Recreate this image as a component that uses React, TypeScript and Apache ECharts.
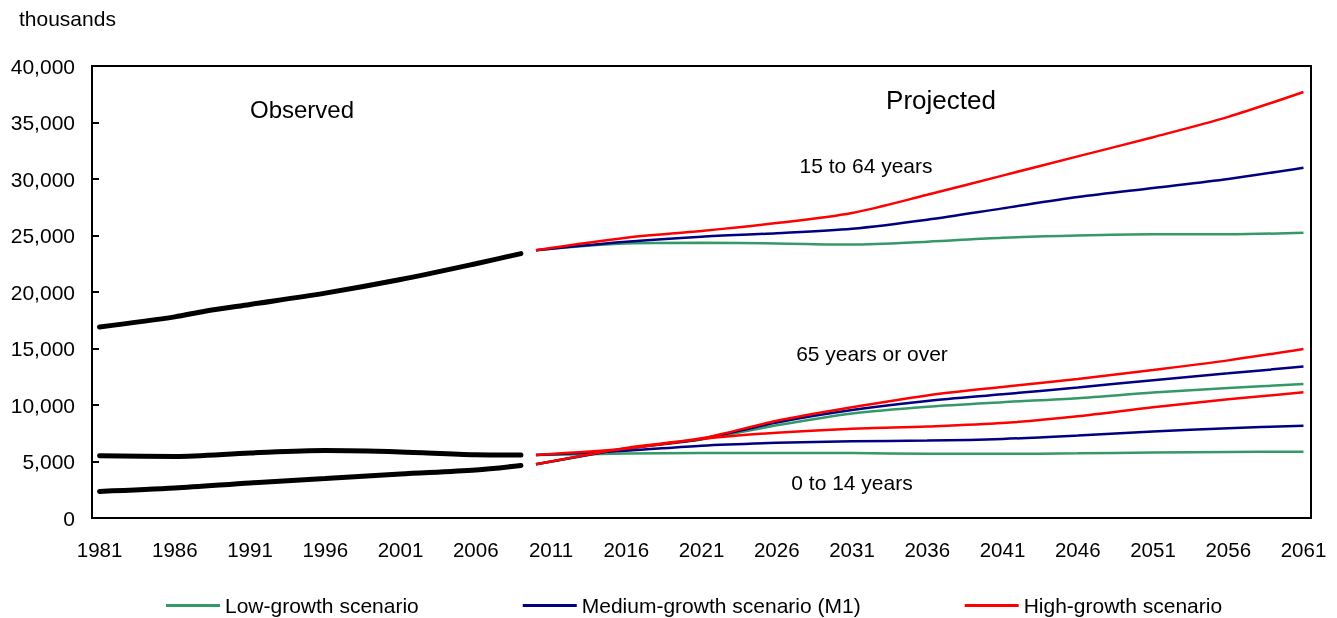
import React, { useEffect, useRef } from "react";
import * as echarts from "echarts";

const years: string[] = [];
for (let y = 1981; y <= 2061; y++) years.push(String(y));

const yTicks = [0, 5000, 10000, 15000, 20000, 25000, 30000, 35000, 40000];

// Observed
const obsWorkYears = ["1981", "1986", "1988", "1991", "1996", "2001", "2006", "2009"];
const obsWork = [16900, 17800, 18300, 18900, 19900, 21100, 22500, 23400];
const obsYoungYears = ["1981", "1986", "1991", "1996", "2001", "2006", "2009"];
const obsYoung = [5500, 5450, 5750, 5970, 5850, 5600, 5580];
const obsOldYears = ["1981", "1986", "1991", "1996", "2001", "2006", "2009"];
const obsOld = [2350, 2650, 3100, 3500, 3900, 4250, 4650];

// Projected
const projYears = ["2010", "2016", "2021", "2026", "2031", "2036", "2041", "2046", "2051", "2056", "2061"];
const workLow = [23700, 24300, 24350, 24300, 24200, 24450, 24800, 25000, 25100, 25100, 25250];
const workMed = [23700, 24450, 24900, 25200, 25600, 26400, 27400, 28400, 29200, 30000, 31000];
const workHigh = [23700, 24800, 25400, 26100, 27000, 28600, 30300, 32000, 33700, 35500, 37700];
const oldLow = [4750, 6100, 6950, 8200, 9250, 9850, 10250, 10600, 11100, 11500, 11860];
const oldMed = [4750, 6150, 7000, 8450, 9550, 10350, 10950, 11550, 12200, 12800, 13400];
const oldHigh = [4750, 6200, 7050, 8600, 9800, 10850, 11600, 12300, 13100, 13950, 14960];
const youngLow = [5580, 5700, 5750, 5750, 5750, 5680, 5680, 5720, 5800, 5850, 5870];
const youngMed = [5580, 5950, 6400, 6650, 6800, 6850, 7000, 7300, 7650, 7950, 8170];
const youngHigh = [5580, 6150, 7000, 7550, 7900, 8100, 8400, 9000, 9800, 10500, 11120];

const LOW = "Low-growth scenario";
const MED = "Medium-growth scenario (M1)";
const HIGH = "High-growth scenario";
const GREEN = "#339966";
const NAVY = "#000080";
const RED = "#ff0000";
const FONT = "Liberation Sans";

const pair = (xs: string[], vs: number[]) => xs.map((x, i) => [x, vs[i]]);

export default function App() {
  const ref = useRef<HTMLDivElement>(null);
  useEffect(() => {
    if (!ref.current) return;
    const chart = echarts.init(ref.current, null, { renderer: "svg" });
    const obs = (xs: string[], vs: number[]) => ({
      type: "line",
      data: pair(xs, vs),
      smooth: 0.3,
      showSymbol: false,
      symbol: "none",
      lineStyle: { color: "#000", width: 5, cap: "round" },
      z: 3,
    });
    const proj = (name: string, color: string, vs: number[]) => ({
      type: "line",
      name,
      data: pair(projYears, vs),
      smooth: 0.3,
      showSymbol: false,
      symbol: "none",
      itemStyle: { color },
      lineStyle: { color, width: 2.5 },
      z: name === HIGH ? 4 : name === MED ? 3 : 2,
    });
    const txt = (text: string, x: number, y: number, size: number) => ({
      type: "text",
      x,
      y,
      style: { text, font: `${size}px ${FONT}`, fill: "#000", align: "center", verticalAlign: "middle" },
    });
    chart.setOption({
      animation: false,
      textStyle: { fontFamily: FONT },
      grid: {
        left: 92,
        right: 26,
        top: 66,
        bottom: 100,
        show: true,
        borderColor: "#000",
        borderWidth: 2,
        backgroundColor: "transparent",
      },
      legend: {
        left: 161,
        top: 590,
        data: [LOW, MED, HIGH],
        icon: "rect",
        itemWidth: 54,
        itemHeight: 3,
        itemGap: 104,
        textStyle: { fontSize: 21, color: "#000", fontFamily: FONT },
      },
      xAxis: {
        type: "category",
        data: years,
        boundaryGap: true,
        axisLine: { lineStyle: { color: "#000", width: 2 } },
        axisTick: { inside: true, length: 7, interval: 4, lineStyle: { color: "#000", width: 2 } },
        axisLabel: { interval: 4, color: "#000", fontSize: 20.5, margin: 21, fontFamily: FONT },
        splitLine: { show: false },
      },
      yAxis: {
        type: "value",
        min: 0,
        max: 40000,
        interval: 5000,
        axisLine: { show: true, lineStyle: { color: "#000", width: 2 } },
        axisTick: { show: true, inside: true, length: 7, lineStyle: { color: "#000", width: 2 } },
        axisLabel: {
          color: "#000",
          fontSize: 21,
          margin: 17,
          fontFamily: FONT,
          formatter: (v: number) => (yTicks.includes(v) ? v.toLocaleString("en-US") : ""),
        },
        splitLine: { show: false },
      },
      graphic: [
        { type: "text", x: 19, y: 18, style: { text: "thousands", font: `21px ${FONT}`, fill: "#000", align: "left", verticalAlign: "middle" } },
        txt("Observed", 302, 109, 24),
        txt("Projected", 941, 100, 26),
        txt("15 to 64 years", 866, 165, 21),
        txt("65 years or over", 872, 353, 21),
        txt("0 to 14 years", 852, 482, 21),
      ],
      series: [
        obs(obsWorkYears, obsWork),
        obs(obsYoungYears, obsYoung),
        obs(obsOldYears, obsOld),
        proj(LOW, GREEN, workLow),
        proj(LOW, GREEN, oldLow),
        proj(LOW, GREEN, youngLow),
        proj(MED, NAVY, workMed),
        proj(MED, NAVY, oldMed),
        proj(MED, NAVY, youngMed),
        proj(HIGH, RED, workHigh),
        proj(HIGH, RED, oldHigh),
        proj(HIGH, RED, youngHigh),
      ],
    });
    return () => chart.dispose();
  }, []);
  return <div ref={ref} style={{ position: "fixed", left: 0, top: 0, width: 1337, height: 618 }} />;
}
